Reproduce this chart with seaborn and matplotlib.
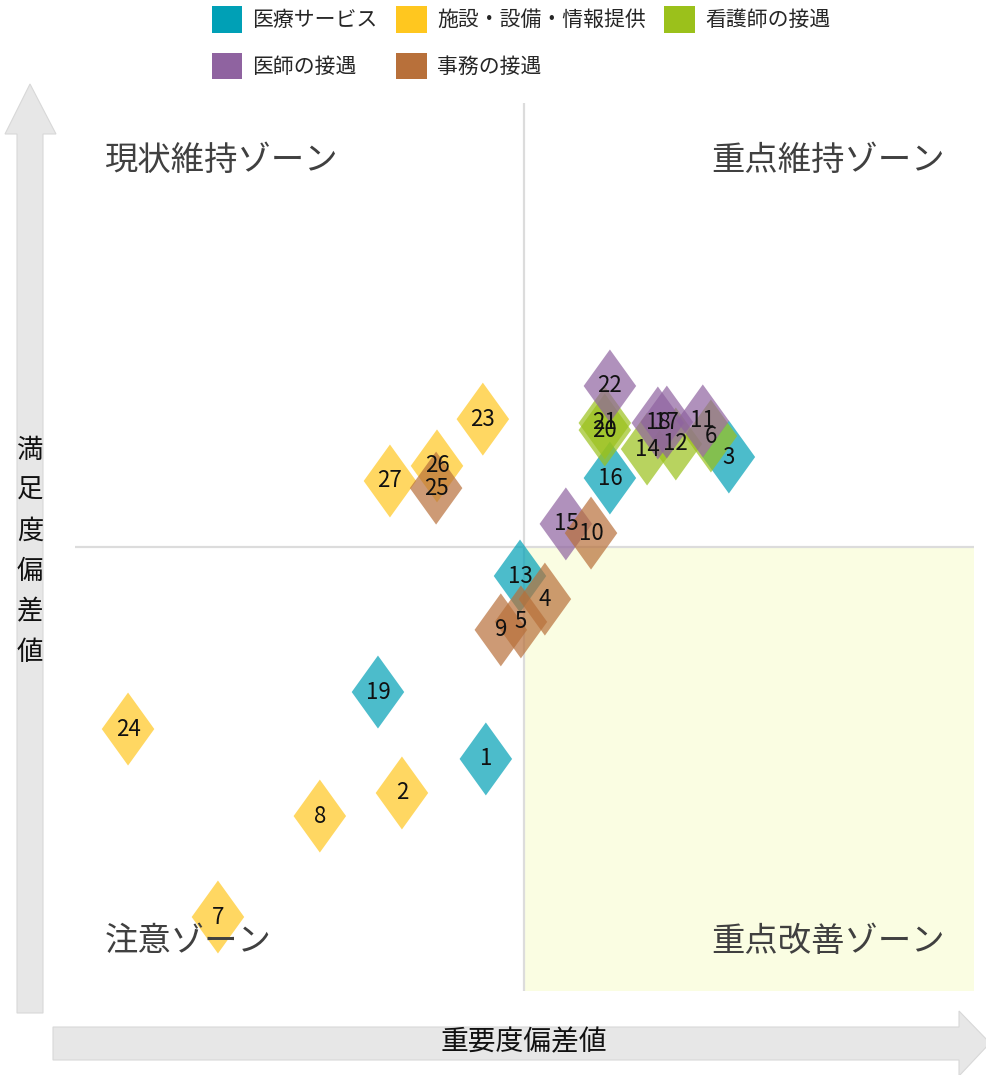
import numpy as np
import pandas as pd
import matplotlib
matplotlib.use("Agg")
import matplotlib.pyplot as plt
from matplotlib.path import Path
from matplotlib.patches import Patch, Polygon
import seaborn as sns

# ---- data -------------------------------------------------------------
categories = ["医療サービス", "施設・設備・情報提供", "看護師の接遇", "医師の接遇", "事務の接遇"]
palette_hex = ["#00A0B6", "#FFC71F", "#9BC11B", "#8F63A0", "#B8703A"]

item_no = [1, 2, 3, 4, 5, 6, 7, 8, 9, 10, 11, 12, 13, 14,
           15, 16, 17, 18, 19, 20, 21, 22, 23, 24, 25, 26, 27]
importance = [48.71, 45.91, 56.82, 50.68, 49.88, 56.22, 39.77, 43.17, 49.21,
              52.22, 55.95, 55.05, 49.85, 54.09, 51.38, 52.85, 54.75, 54.45,
              45.11, 52.68, 52.68, 52.85, 48.61, 36.77, 47.05, 47.08, 45.51]
satisfaction = [42.84, 41.69, 53.04, 48.24, 47.47, 53.75, 37.50, 40.91, 47.20,
                50.47, 54.26, 53.48, 49.02, 53.31, 50.78, 52.33, 54.22, 54.19,
                45.10, 53.95, 54.19, 55.44, 54.32, 43.85, 51.99, 52.74, 52.23]
group = ["医療サービス", "施設・設備・情報提供", "医療サービス", "事務の接遇", "事務の接遇",
         "看護師の接遇", "施設・設備・情報提供", "施設・設備・情報提供", "事務の接遇",
         "事務の接遇", "医師の接遇", "看護師の接遇", "医療サービス", "看護師の接遇",
         "医師の接遇", "医療サービス", "医師の接遇", "医師の接遇", "医療サービス",
         "看護師の接遇", "看護師の接遇", "医師の接遇", "施設・設備・情報提供",
         "施設・設備・情報提供", "事務の接遇", "施設・設備・情報提供", "施設・設備・情報提供"]

x_label = "重要度偏差値"
y_label = "満足度偏差値"
zone_labels = ["現状維持ゾーン", "重点維持ゾーン", "注意ゾーン", "重点改善ゾーン"]
center = 50.0
span = 15.0

df = pd.DataFrame({"no": item_no, "importance": importance,
                   "satisfaction": satisfaction, "group": group})
df["order"] = df["group"].map({c: i for i, c in enumerate(categories)})
df = df.sort_values(["order", "no"], kind="stable")
palette = dict(zip(categories, palette_hex))

# ---- style ------------------------------------------------------------
sns.set_style("white")
plt.rcParams["font.family"] = ["Noto Sans CJK JP", "DejaVu Sans"]

W, H = 986, 1075
fig = plt.figure(figsize=(W / 100, H / 100), dpi=100)
ax = fig.add_axes([75 / W, 84 / H, 899 / W, 888 / H])
ax.set_xlim(center - span, center + span)
ax.set_ylim(center - span, center + span)

# quadrant background and divider lines
ax.axvspan(center, center + span, ymin=0, ymax=0.5, color="#FAFDE2", lw=0, zorder=0)
ax.axvline(center, color="#DCDCDC", lw=1.6, zorder=1)
ax.axhline(center, color="#DCDCDC", lw=1.6, zorder=1)

# tall diamond marker
diamond = Path([(0, 1), (0.72, 0), (0, -1), (-0.72, 0), (0, 1)],
               [Path.MOVETO, Path.LINETO, Path.LINETO, Path.LINETO, Path.CLOSEPOLY])

sns.scatterplot(data=df, x="importance", y="satisfaction", hue="group",
                hue_order=categories, palette=palette, marker=diamond,
                s=2760, alpha=0.7, linewidth=0, legend=False, ax=ax, zorder=3)

for _, r in df.iterrows():
    ax.text(r["importance"], r["satisfaction"], str(r["no"]), ha="center",
            va="center", fontsize=16, color="#111111", zorder=5)

# zone captions
zone_kw = dict(fontsize=24, color="#404040", va="center", transform=ax.transAxes, zorder=6)
ax.text(0.0334, 0.9358, zone_labels[0], ha="left", **zone_kw)
ax.text(0.9677, 0.9358, zone_labels[1], ha="right", **zone_kw)
ax.text(0.0334, 0.0563, zone_labels[2], ha="left", **zone_kw)
ax.text(0.9677, 0.0563, zone_labels[3], ha="right", **zone_kw)

ax.set_axis_off()


# ---- axis arrows ------------------------------------------------------
def fig_poly(pts):
    return Polygon([(x / W, 1 - y / H) for x, y in pts], closed=True,
                   transform=fig.transFigure, facecolor="#E7E7E7",
                   edgecolor="#D8D8D8", lw=0.8, zorder=0)


# vertical (satisfaction) arrow
fig.add_artist(fig_poly([(17, 1013), (17, 134), (5, 134), (30, 84), (56, 134),
                         (43, 134), (43, 1013)]))
# horizontal (importance) arrow
fig.add_artist(fig_poly([(53, 1027), (959, 1027), (959, 1011), (990, 1043),
                         (959, 1076), (959, 1060), (53, 1060)]))

fig.text(524 / W, 1 - 1042 / H, x_label, ha="center", va="center",
         fontsize=20, color="#111111")
for i, ch in enumerate(y_label):
    fig.text(30 / W, 1 - (450 + i * 40.5) / H, ch, ha="center", va="center",
             fontsize=19, color="#111111")

# ---- legend -----------------------------------------------------------
legend_order = [0, 3, 1, 4, 2]
handles = [Patch(facecolor=palette_hex[i], edgecolor="none", label=categories[i])
           for i in legend_order]
fig.legend(handles=handles, loc="upper center", ncol=3,
           bbox_to_anchor=(521 / W, 1 - 6 / H), bbox_transform=fig.transFigure,
           frameon=False, fontsize=15, handlelength=1.45, handleheight=1.6,
           handletextpad=0.5, columnspacing=0.9, labelspacing=0.95,
           borderpad=0, borderaxespad=0)

fig.savefig("out.png", dpi=100)
